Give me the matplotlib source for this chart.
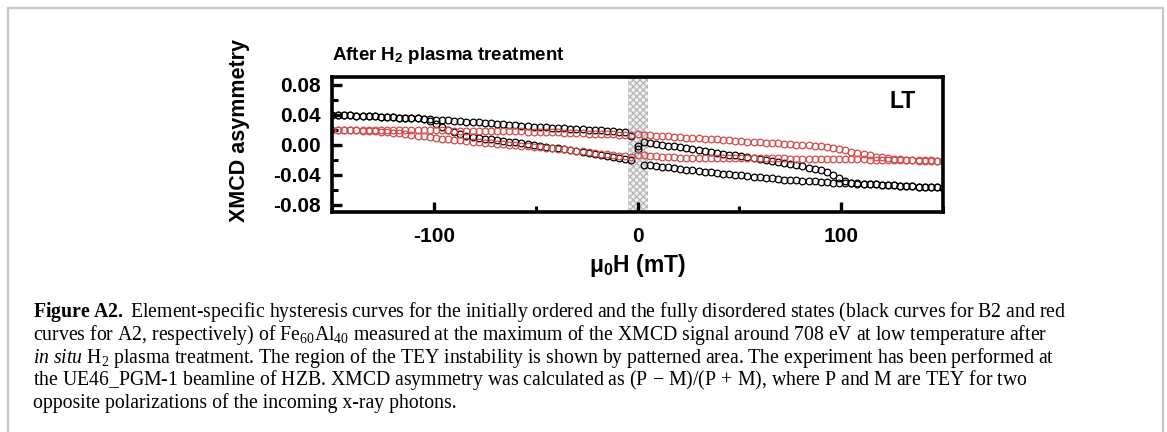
import matplotlib
matplotlib.use("Agg")
import matplotlib.pyplot as plt
from matplotlib.patches import Rectangle
from matplotlib.ticker import MultipleLocator

plt.rcParams['axes.unicode_minus'] = False
plt.rcParams['mathtext.fontset'] = 'custom'
plt.rcParams['mathtext.rm'] = 'Liberation Serif'
plt.rcParams['mathtext.it'] = 'Liberation Serif:italic'
plt.rcParams['mathtext.bf'] = 'Liberation Serif:bold'
plt.rcParams['mathtext.sf'] = 'Liberation Sans:bold'
plt.rcParams['mathtext.default'] = 'rm'

SANS = ['Liberation Sans', 'DejaVu Sans']

# field values (mT)
field = [-150, -147, -144, -141, -138, -135, -132, -129, -126, -123,
         -120, -117, -114, -111, -108, -105, -102, -99, -96, -93,
         -90, -87, -84, -81, -78, -75, -72, -69, -66, -63,
         -60, -57, -54, -51, -48, -45, -42, -39, -36, -33,
         -30, -27, -24, -21, -18, -15, -12, -9, -6, -3,
         0, 3, 6, 9, 12, 15, 18, 21, 24, 27,
         30, 33, 36, 39, 42, 45, 48, 51, 54, 57,
         60, 63, 66, 69, 72, 75, 78, 81, 84, 87,
         90, 93, 96, 99, 102, 105, 108, 111, 114, 117,
         120, 123, 126, 129, 132, 135, 138, 141, 144, 147,
         150]

# B2 (black) branches
b2_a = [.0400, .0397, .0393, .0390, .0386, .0383, .0379, .0376, .0372, .0368,
        .0364, .0360, .0356, .0351, .0347, .0343, .0338, .0333, .0328, .0323,
        .0318, .0312, .0306, .0300, .0294, .0288, .0282, .0276, .0270, .0264,
        .0258, .0252, .0246, .0240, .0235, .0230, .0225, .0220, .0216, .0212,
        .0208, .0204, .0200, .0196, .0191, .0186, .0180, .0172, .0162, .0120,
        -.0020, -.0270, -.0279, -.0288, -.0297, -.0306, -.0315, -.0325, -.0334, -.0343,
        -.0352, -.0362, -.0371, -.0380, -.0388, -.0396, -.0404, -.0412, -.0420, -.0428,
        -.0436, -.0444, -.0452, -.0460, -.0467, -.0472, -.0477, -.0482, -.0487, -.0492,
        -.0497, -.0502, -.0507, -.0511, -.0515, -.0519, -.0522, -.0526, -.0530, -.0533,
        -.0537, -.0541, -.0544, -.0548, -.0552, -.0556, -.0560, -.0564, -.0568, -.0572,
        -.0576]
b2_b = [.0400, .0397, .0393, .0390, .0386, .0383, .0379, .0376, .0372, .0368,
        .0364, .0360, .0356, .0351, .0347, .0343, .0315, .0280, .0240, .0200,
        .0165, .0140, .0120, .0103, .0090, .0078, .0068, .0058, .0048, .0038,
        .0028, .0018, .0007, -.0004, -.0016, -.0028, -.0040, -.0053, -.0066, -.0079,
        -.0092, -.0105, -.0118, -.0131, -.0144, -.0157, -.0170, -.0183, -.0196, -.0205,
        -.0060, .0040, .0022, .0010, -.0002, -.0014, -.0026, -.0038, -.0050, -.0062,
        -.0074, -.0086, -.0098, -.0110, -.0122, -.0134, -.0146, -.0158, -.0170, -.0182,
        -.0194, -.0206, -.0218, -.0230, -.0240, -.0257, -.0274, -.0291, -.0308, -.0325,
        -.0345, -.0372, -.0410, -.0450, -.0485, -.0510, -.0518, -.0526, -.0530, -.0533,
        -.0537, -.0541, -.0544, -.0548, -.0552, -.0556, -.0560, -.0564, -.0568, -.0572,
        -.0576]

# A2 (red) branches
a2_a = [.0200, .0200, .0199, .0199, .0198, .0198, .0197, .0197, .0196, .0196,
        .0195, .0194, .0194, .0193, .0192, .0191, .0190, .0189, .0188, .0187,
        .0186, .0185, .0184, .0183, .0182, .0181, .0180, .0179, .0178, .0177,
        .0175, .0174, .0172, .0170, .0168, .0166, .0164, .0161, .0158, .0155,
        .0152, .0149, .0146, .0143, .0140, .0137, .0135, .0133, .0131, .0125,
        .0135, .0130, .0125, .0119, .0114, .0109, .0104, .0098, .0093, .0088,
        .0083, .0077, .0072, .0067, .0062, .0056, .0051, .0046, .0040, .0035,
        .0030, .0024, .0019, .0014, .0008, .0003, -.0003, -.0008, -.0013, -.0019,
        -.0026, -.0036, -.0048, -.0062, -.0078, -.0095, -.0112, -.0128, -.0145, -.0160,
        -.0172, -.0182, -.0190, -.0196, -.0200, -.0204, -.0207, -.0210, -.0213, -.0216,
        -.0219]
a2_b = [.0198, .0196, .0193, .0190, .0187, .0184, .0180, .0176, .0172, .0167,
        .0157, .0147, .0137, .0127, .0117, .0107, .0097, .0088, .0080, .0072,
        .0064, .0056, .0048, .0040, .0032, .0024, .0018, .0012, .0005, -.0001,
        -.0008, -.0014, -.0020, -.0027, -.0033, -.0040, -.0046, -.0055, -.0064, -.0074,
        -.0083, -.0092, -.0101, -.0110, -.0120, -.0129, -.0138, -.0147, -.0156, -.0160,
        -.0135, -.0145, -.0152, -.0158, -.0163, -.0168, -.0172, -.0176, -.0178, -.0180,
        -.0181, -.0181, -.0182, -.0182, -.0182, -.0183, -.0183, -.0183, -.0184, -.0184,
        -.0184, -.0185, -.0185, -.0186, -.0186, -.0187, -.0188, -.0189, -.0190, -.0191,
        -.0192, -.0193, -.0194, -.0195, -.0196, -.0197, -.0198, -.0199, -.0200, -.0202,
        -.0204, -.0206, -.0208, -.0209, -.0210, -.0212, -.0214, -.0216, -.0217, -.0218,
        -.0220]

unstable = (-4.5, 5)

caption = [
    r"$\mathbf{Figure\ A2.\ }$Element-specific hysteresis curves for the initially ordered and the fully disordered states (black curves for B2 and red",
    r"curves for A2, respectively) of Fe$_{60}$Al$_{40}$ measured at the maximum of the XMCD signal around 708 eV at low temperature after",
    r"$\mathit{in\ situ}$ H$_2$ plasma treatment. The region of the TEY instability is shown by patterned area. The experiment has been performed at",
    r"the UE46_PGM-1 beamline of HZB. XMCD asymmetry was calculated as (P$\,-\,$M)/(P$\,+\,$M), where P and M are TEY for two",
    r"opposite polarizations of the incoming x-ray photons.",
]

W, H = 1167, 432
fig = plt.figure(figsize=(W / 100, H / 100), dpi=100)
ax = fig.add_axes([332 / W, 1 - 212 / H, 611 / W, 135 / H])

ax.axvspan(unstable[0], unstable[1], facecolor='#f2f2f2', edgecolor='#b8b8b8',
           hatch='xxxxx', lw=0, zorder=0)

mk = dict(ls='none', marker='o', mfc='none', ms=4.8, mew=0.9)
ax.plot(field, b2_a, mec='black', **mk)
ax.plot(field, b2_b, mec='black', **mk)
ax.plot(field, a2_a, mec='#d24a4a', **mk)
ax.plot(field, a2_b, mec='#d24a4a', **mk)

ax.set_xlim(-150, 150)
ax.set_ylim(-0.09, 0.09)
ax.xaxis.set_major_locator(MultipleLocator(100))
ax.xaxis.set_minor_locator(MultipleLocator(50))
ax.yaxis.set_minor_locator(MultipleLocator(0.02))
ax.set_yticks([-0.08, -0.04, 0.0, 0.04, 0.08])
ax.set_yticklabels(['-0.08', '-0.04', '0.00', '0.04', '0.08'])

for s in ax.spines.values():
    s.set_linewidth(2.6)
ax.tick_params(axis='y', which='major', pad=8)
ax.tick_params(axis='x', which='major', pad=11)
ax.tick_params(which='major', direction='in', length=7, width=2.4,
               top=False, right=False)
ax.tick_params(which='minor', direction='in', length=4, width=2.2,
               top=False, right=False)
for lab in ax.get_xticklabels() + ax.get_yticklabels():
    lab.set_family(SANS)
    lab.set_fontweight('bold')
    lab.set_fontsize(15)

ax.set_ylabel('XMCD asymmetry', family=SANS, fontweight='bold', fontsize=15.5)
ax.yaxis.set_label_coords(-0.135, 0.6)
ax.set_xlabel('\u03bc$_{\\mathsf{0}}$H (mT)', family=SANS, fontweight='bold',
              fontsize=16.5, labelpad=4)

ax.text(0.0, 1.08, 'After H$_{\\mathsf{2}}$ plasma treatment', transform=ax.transAxes,
        family=SANS, fontweight='bold', fontsize=13.5, ha='left', va='bottom')
ax.text(0.955, 0.82, 'LT', transform=ax.transAxes, family=SANS,
        fontweight='bold', fontsize=16.5, ha='right', va='center')

# page frame
fig.add_artist(Rectangle((8 / W, -0.05), 1155 / W, 1.05 - 8 / H,
                         transform=fig.transFigure, fill=False,
                         edgecolor='#c8c8c8', lw=1.6))

y0 = 312
for i, line in enumerate(caption):
    fig.text(33 / W, 1 - (y0 + i * 22.8) / H, line, family='Liberation Serif',
             fontsize=14.2, ha='left', va='center')

fig.savefig('out.png', dpi=100)
